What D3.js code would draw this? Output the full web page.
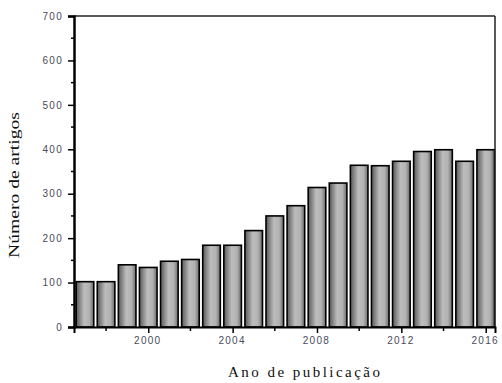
<!DOCTYPE html>
<html><head><meta charset="utf-8">
<script src="https://cdn.jsdelivr.net/npm/d3@7"></script>
<style>html,body{margin:0;padding:0;background:#fff;}svg{display:block;}</style>
</head><body>
<svg id="c" width="502" height="383"></svg>
<script>
const years = [1997,1998,1999,2000,2001,2002,2003,2004,2005,2006,2007,2008,2009,2010,2011,2012,2013,2014,2015,2016];
const counts = [102,102,140,134,148,152,184,184,217,250,273,314,324,364,363,373,395,399,373,399];
const yTicks = [0,100,200,300,400,500,600,700];
const xTicks = [2000,2004,2008,2012,2016];
const xMinor = [1998,2002,2006,2010,2014];
const yMinor = [50,150,250,350,450,550,650];

const svg = d3.select("#c");
const L=74, R=495, T=16, B=327;
const x = d3.scaleLinear().domain([1996.48, 2016.44]).range([L, R]);
const y = d3.scaleLinear().domain([0, 700]).range([B, T]);
const bw = 17.6;

const defs = svg.append("defs");
const g = defs.append("linearGradient").attr("id","bg").attr("x1","0").attr("x2","1").attr("y1","0").attr("y2","0");
[[0,"#585858"],[0.45,"#bdbdbd"],[0.75,"#b2b2b2"],[1,"#6a6a6a"]].forEach(s=>g.append("stop").attr("offset",s[0]).attr("stop-color",s[1]));

svg.append("g").selectAll("rect").data(years).join("rect")
  .attr("x", (d)=>x(d)-bw/2)
  .attr("y", (d,i)=>y(counts[i]))
  .attr("width", bw)
  .attr("height", (d,i)=>y(0)-y(counts[i]))
  .attr("fill","url(#bg)")
  .attr("stroke","#000").attr("stroke-width",1.6);

// frame
svg.append("line").attr("x1",L).attr("x2",R).attr("y1",T).attr("y2",T).attr("stroke","#222").attr("stroke-width",1.5);
svg.append("line").attr("x1",R).attr("x2",R).attr("y1",T).attr("y2",B).attr("stroke","#222").attr("stroke-width",1.5);

// y axis
const ya = svg.append("g").attr("transform",`translate(${L},0)`)
  .call(d3.axisLeft(y).tickValues(yTicks).tickSize(6).tickPadding(5).tickFormat(d3.format("d")));
ya.select(".domain").attr("stroke","#000").attr("stroke-width",2.5);
ya.selectAll(".tick line").attr("stroke","#000").attr("stroke-width",1.5);
ya.selectAll(".tick text").attr("font-family","Liberation Sans, Arial, sans-serif").attr("font-size",10).attr("fill","#4a4a5a")
  .attr("letter-spacing",1.3);
svg.append("g").selectAll("line").data(yMinor).join("line")
  .attr("x1",L-3).attr("x2",L).attr("y1",d=>y(d)).attr("y2",d=>y(d)).attr("stroke","#000").attr("stroke-width",1.5);

// x axis
const xa = svg.append("g").attr("transform",`translate(0,${B})`)
  .call(d3.axisBottom(x).tickValues(xTicks).tickSize(6).tickPadding(4).tickFormat(d3.format("d")));
xa.select(".domain").attr("stroke","#000").attr("stroke-width",2);
xa.selectAll(".tick line").attr("stroke","#000").attr("stroke-width",1.5);
xa.selectAll(".tick text").attr("font-family","Liberation Sans, Arial, sans-serif").attr("font-size",10).attr("fill","#4a4a5a")
  .attr("letter-spacing",1.3).attr("dx",-1);
svg.append("g").selectAll("line").data(xMinor).join("line")
  .attr("x1",d=>x(d)).attr("x2",d=>x(d)).attr("y1",B).attr("y2",B+4).attr("stroke","#000").attr("stroke-width",1.5);

// titles
svg.append("text").attr("transform","translate(19,185) rotate(-90)").attr("text-anchor","middle")
  .attr("font-family","Liberation Serif, Times New Roman, serif").attr("font-size",15).attr("fill","#111")
  .attr("textLength",146).attr("lengthAdjust","spacingAndGlyphs").text("Número de artigos");
svg.append("text").attr("x",304).attr("y",377).attr("text-anchor","middle")
  .attr("font-family","Liberation Serif, Times New Roman, serif").attr("font-size",15).attr("fill","#111")
  .attr("textLength",152).attr("lengthAdjust","spacing").text("Ano de publicação");
</script>
</body></html>
